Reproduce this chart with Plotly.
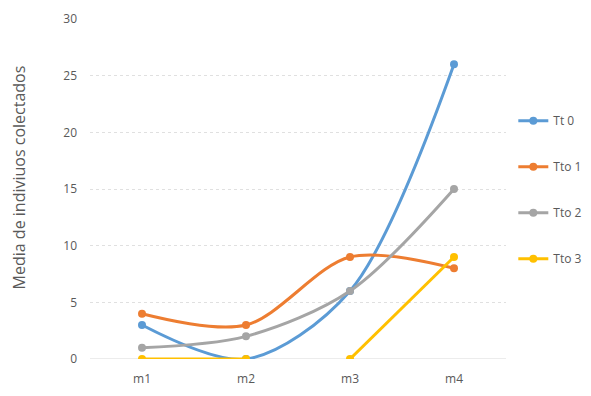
import plotly.graph_objects as go

categories = ["m1", "m2", "m3", "m4"]
tt0 = [3, 0, 6, 26]
tto1 = [4, 3, 9, 8]
tto2 = [1, 2, 6, 15]
tto3 = [0, 0, 0, 9]
names = ["Tt 0", "Tto 1", "Tto 2", "Tto 3"]
colors = ["#5B9BD5", "#ED7D31", "#A5A5A5", "#FFC000"]
y_title = "Media de indiviuos colectados"

fig = go.Figure()
series = [tt0, tto1, tto2]
for i, s in enumerate(series):
    fig.add_trace(go.Scatter(
        x=categories, y=s, name=names[i], mode="lines+markers",
        line=dict(color=colors[i], width=3, shape="spline", smoothing=0.9),
        marker=dict(size=8, color=colors[i]),
        legendgroup=names[i],
    ))
# Tto 3 drawn in two segments (no line between m2 and m3 in the reference)
seg1 = [v if j < 2 else None for j, v in enumerate(tto3)]
seg2 = [v if j >= 2 else None for j, v in enumerate(tto3)]
fig.add_trace(go.Scatter(
    x=categories, y=seg1, name=names[3], mode="lines+markers",
    line=dict(color=colors[3], width=3, shape="spline", smoothing=0.9),
    marker=dict(size=8, color=colors[3]), legendgroup=names[3],
))
fig.add_trace(go.Scatter(
    x=categories, y=seg2, name=names[3], mode="lines+markers", showlegend=False,
    line=dict(color=colors[3], width=3, shape="spline", smoothing=0.9),
    marker=dict(size=8, color=colors[3]), legendgroup=names[3],
))

fig.update_layout(
    width=591, height=396,
    margin=dict(l=82, r=93, t=11, b=45),
    plot_bgcolor="white", paper_bgcolor="white",
    font=dict(family="Open Sans, Calibri, sans-serif", size=12, color="#595959"),
    legend=dict(xref="container", yref="container", x=0.855, y=0.752,
                xanchor="left", yanchor="top",
                tracegroupgap=27, font=dict(size=12, color="#595959"),
                itemwidth=30),
    xaxis=dict(range=[-0.5, 3.5], showgrid=False, ticks="", showline=False,
               zeroline=False, ticklabelstandoff=11, automargin=False),
    yaxis=dict(range=[0, 30], dtick=5, showgrid=True, gridcolor="#E0E0E0",
               griddash="dot", gridwidth=1, zeroline=False, showline=False,
               ticks="", ticklabelstandoff=12, automargin=False),
    annotations=[dict(text=y_title, textangle=-90, xref="paper", yref="paper",
                      x=-0.17, y=0.535, xanchor="center", yanchor="middle",
                      showarrow=False, font=dict(size=16, color="#595959"))],
)
fig.add_shape(type="line", xref="paper", yref="y", x0=0, x1=1, y0=0, y1=0,
              line=dict(color="#D9D9D9", width=1), layer="below")

fig.write_html("out.html")
